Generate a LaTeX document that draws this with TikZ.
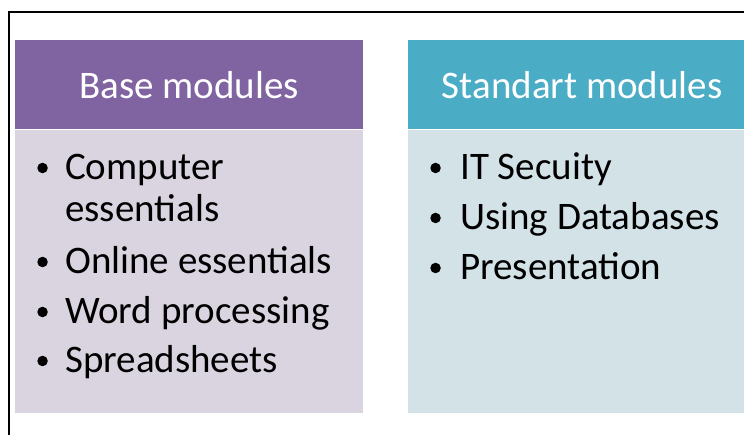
\documentclass[tikz,border=0pt]{standalone}
\usepackage{fontspec}
\setmainfont{Carlito}
\usepackage{xcolor}
\usetikzlibrary{positioning}

\definecolor{basehead}{HTML}{8064A2}
\definecolor{basebody}{HTML}{D9D4E0}
\definecolor{stdhead}{HTML}{4BACC6}
\definecolor{stdbody}{HTML}{D2E2E7}

\begin{document}
\begin{tikzpicture}[
    x=1pt, y=-1pt,
    head/.style={rectangle, anchor=north west, minimum width=348pt, minimum height=89pt, inner sep=0pt, text=white, font=\fontsize{39}{45}\selectfont},
    body/.style={rectangle, anchor=north west, minimum width=348pt, minimum height=283pt, inner sep=0pt},
    item/.style={anchor=base west, inner sep=0pt, font=\fontsize{39}{45}\selectfont},
    bulletdot/.style={circle, fill=black, inner sep=0pt, minimum size=10.5pt}
]
\useasboundingbox (0,0) rectangle (744,435);

% Frame
\coordinate (frameTL) at (9,12);
\draw[line width=1.5pt] (744,12) -- (frameTL) -- (9,435);

% Base modules
\node[head, fill=basehead] (basehd) at (15,40) {Base modules};
\node[body, fill=basebody, below=0pt of basehd.south west, anchor=north west] (basebd) {};

\node[item] (comp) at (65,180) {Computer};
\node[item] (comp2) at (65,222) {essentials};
\node[item] (online) at (65,274) {Online essentials};
\node[item] (word) at (65,324) {Word processing};
\node[item] (sheets) at (65,373) {Spreadsheets};

\foreach \n in {comp, online, word, sheets}
    \node[bulletdot, left=17pt of \n.base west, yshift=12pt] {};

% Standart modules
\node[head, fill=stdhead] (stdhd) at (408,40) {Standart modules};
\node[body, fill=stdbody, below=0pt of stdhd.south west, anchor=north west] (stdbd) {};

\node[item] (secur) at (460,180) {IT Secuity};
\node[item] (dbase) at (460,230) {Using Databases};
\node[item] (pres) at (460,280) {Presentation};

\foreach \n in {secur, dbase, pres}
    \node[bulletdot, left=19pt of \n.base west, yshift=12pt] {};

\end{tikzpicture}
\end{document}
